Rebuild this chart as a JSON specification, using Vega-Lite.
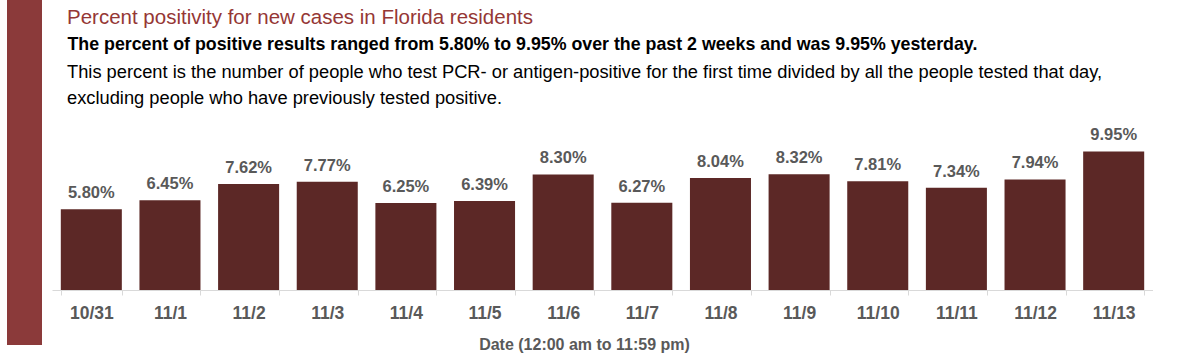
{
  "$schema": "https://vega.github.io/schema/vega-lite/v6.json",
  "background": "white",
  "padding": {"left": 7, "top": 0, "right": 0, "bottom": 0},
  "spacing": 10,
  "config": {"view": {"stroke": null}, "font": "Liberation Sans"},
  "hconcat": [
    {
      "width": 35,
      "height": 345,
      "view": {"fill": "#8b3a3a", "stroke": null},
      "data": {"values": [{"k": 1}]},
      "mark": {"type": "point", "opacity": 0},
      "encoding": {}
    },
    {
      "width": 1101,
      "height": 290,
      "title": {
        "text": "Percent positivity for new cases in Florida residents",
        "subtitle": [
          "This percent is the number of people who test PCR- or antigen-positive for the first time divided by all the people tested that day,",
          "excluding people who have previously tested positive."
        ],
        "anchor": "start",
        "dx": 15,
        "font": "Liberation Sans",
        "fontSize": 20.5,
        "fontWeight": "normal",
        "color": "#953735",
        "subtitleFont": "Liberation Sans",
        "subtitleFontSize": 18.3,
        "subtitleFontWeight": "normal",
        "subtitleColor": "#000000",
        "subtitleLineHeight": 26,
        "subtitlePadding": 35,
        "offset": -107
      },
      "data": {
        "values": [
          {"date": "10/31", "pct": 0.0580},
          {"date": "11/1", "pct": 0.0645},
          {"date": "11/2", "pct": 0.0762},
          {"date": "11/3", "pct": 0.0777},
          {"date": "11/4", "pct": 0.0625},
          {"date": "11/5", "pct": 0.0639},
          {"date": "11/6", "pct": 0.0830},
          {"date": "11/7", "pct": 0.0627},
          {"date": "11/8", "pct": 0.0804},
          {"date": "11/9", "pct": 0.0832},
          {"date": "11/10", "pct": 0.0781},
          {"date": "11/11", "pct": 0.0734},
          {"date": "11/12", "pct": 0.0794},
          {"date": "11/13", "pct": 0.0995}
        ]
      },
      "encoding": {
        "x": {
          "field": "date",
          "type": "ordinal",
          "sort": null,
          "scale": {"paddingInner": 0.224, "paddingOuter": 0.112},
          "title": "Date (12:00 am to 11:59 pm)",
          "axis": {
            "labelAngle": 0,
            "tickBand": "extent",
            "domainColor": "#d9d9d9",
            "tickColor": "#d9d9d9",
            "tickSize": 5,
            "labelFont": "Liberation Sans",
            "labelFontSize": 17.5,
            "labelFontWeight": "bold",
            "labelColor": "#595959",
            "labelPadding": 9,
            "titleFont": "Liberation Sans",
            "titleFontSize": 16,
            "titleFontWeight": "bold",
            "titleColor": "#595959",
            "titlePadding": 15,
            "titleX": 532
          }
        },
        "y": {
          "field": "pct",
          "type": "quantitative",
          "scale": {"domain": [0, 0.2083]},
          "title": "The percent of positive results ranged from 5.80% to 9.95% over the past 2 weeks and was 9.95% yesterday.",
          "axis": {
            "labels": false,
            "ticks": false,
            "domain": false,
            "grid": false,
            "titleAngle": 0,
            "titleAlign": "left",
            "titleBaseline": "alphabetic",
            "titleX": 15,
            "titleY": 49.3,
            "titleFont": "Liberation Sans",
            "titleFontSize": 17.8,
            "titleFontWeight": "bold",
            "titleColor": "#000000"
          }
        }
      },
      "layer": [
        {"mark": {"type": "bar", "color": "#5c2826"}},
        {
          "mark": {
            "type": "text",
            "baseline": "alphabetic",
            "dy": -11,
            "font": "Liberation Sans",
            "fontSize": 16.5,
            "fontWeight": "bold",
            "color": "#595959"
          },
          "encoding": {"text": {"field": "pct", "type": "quantitative", "format": ".2%"}}
        }
      ]
    }
  ]
}
